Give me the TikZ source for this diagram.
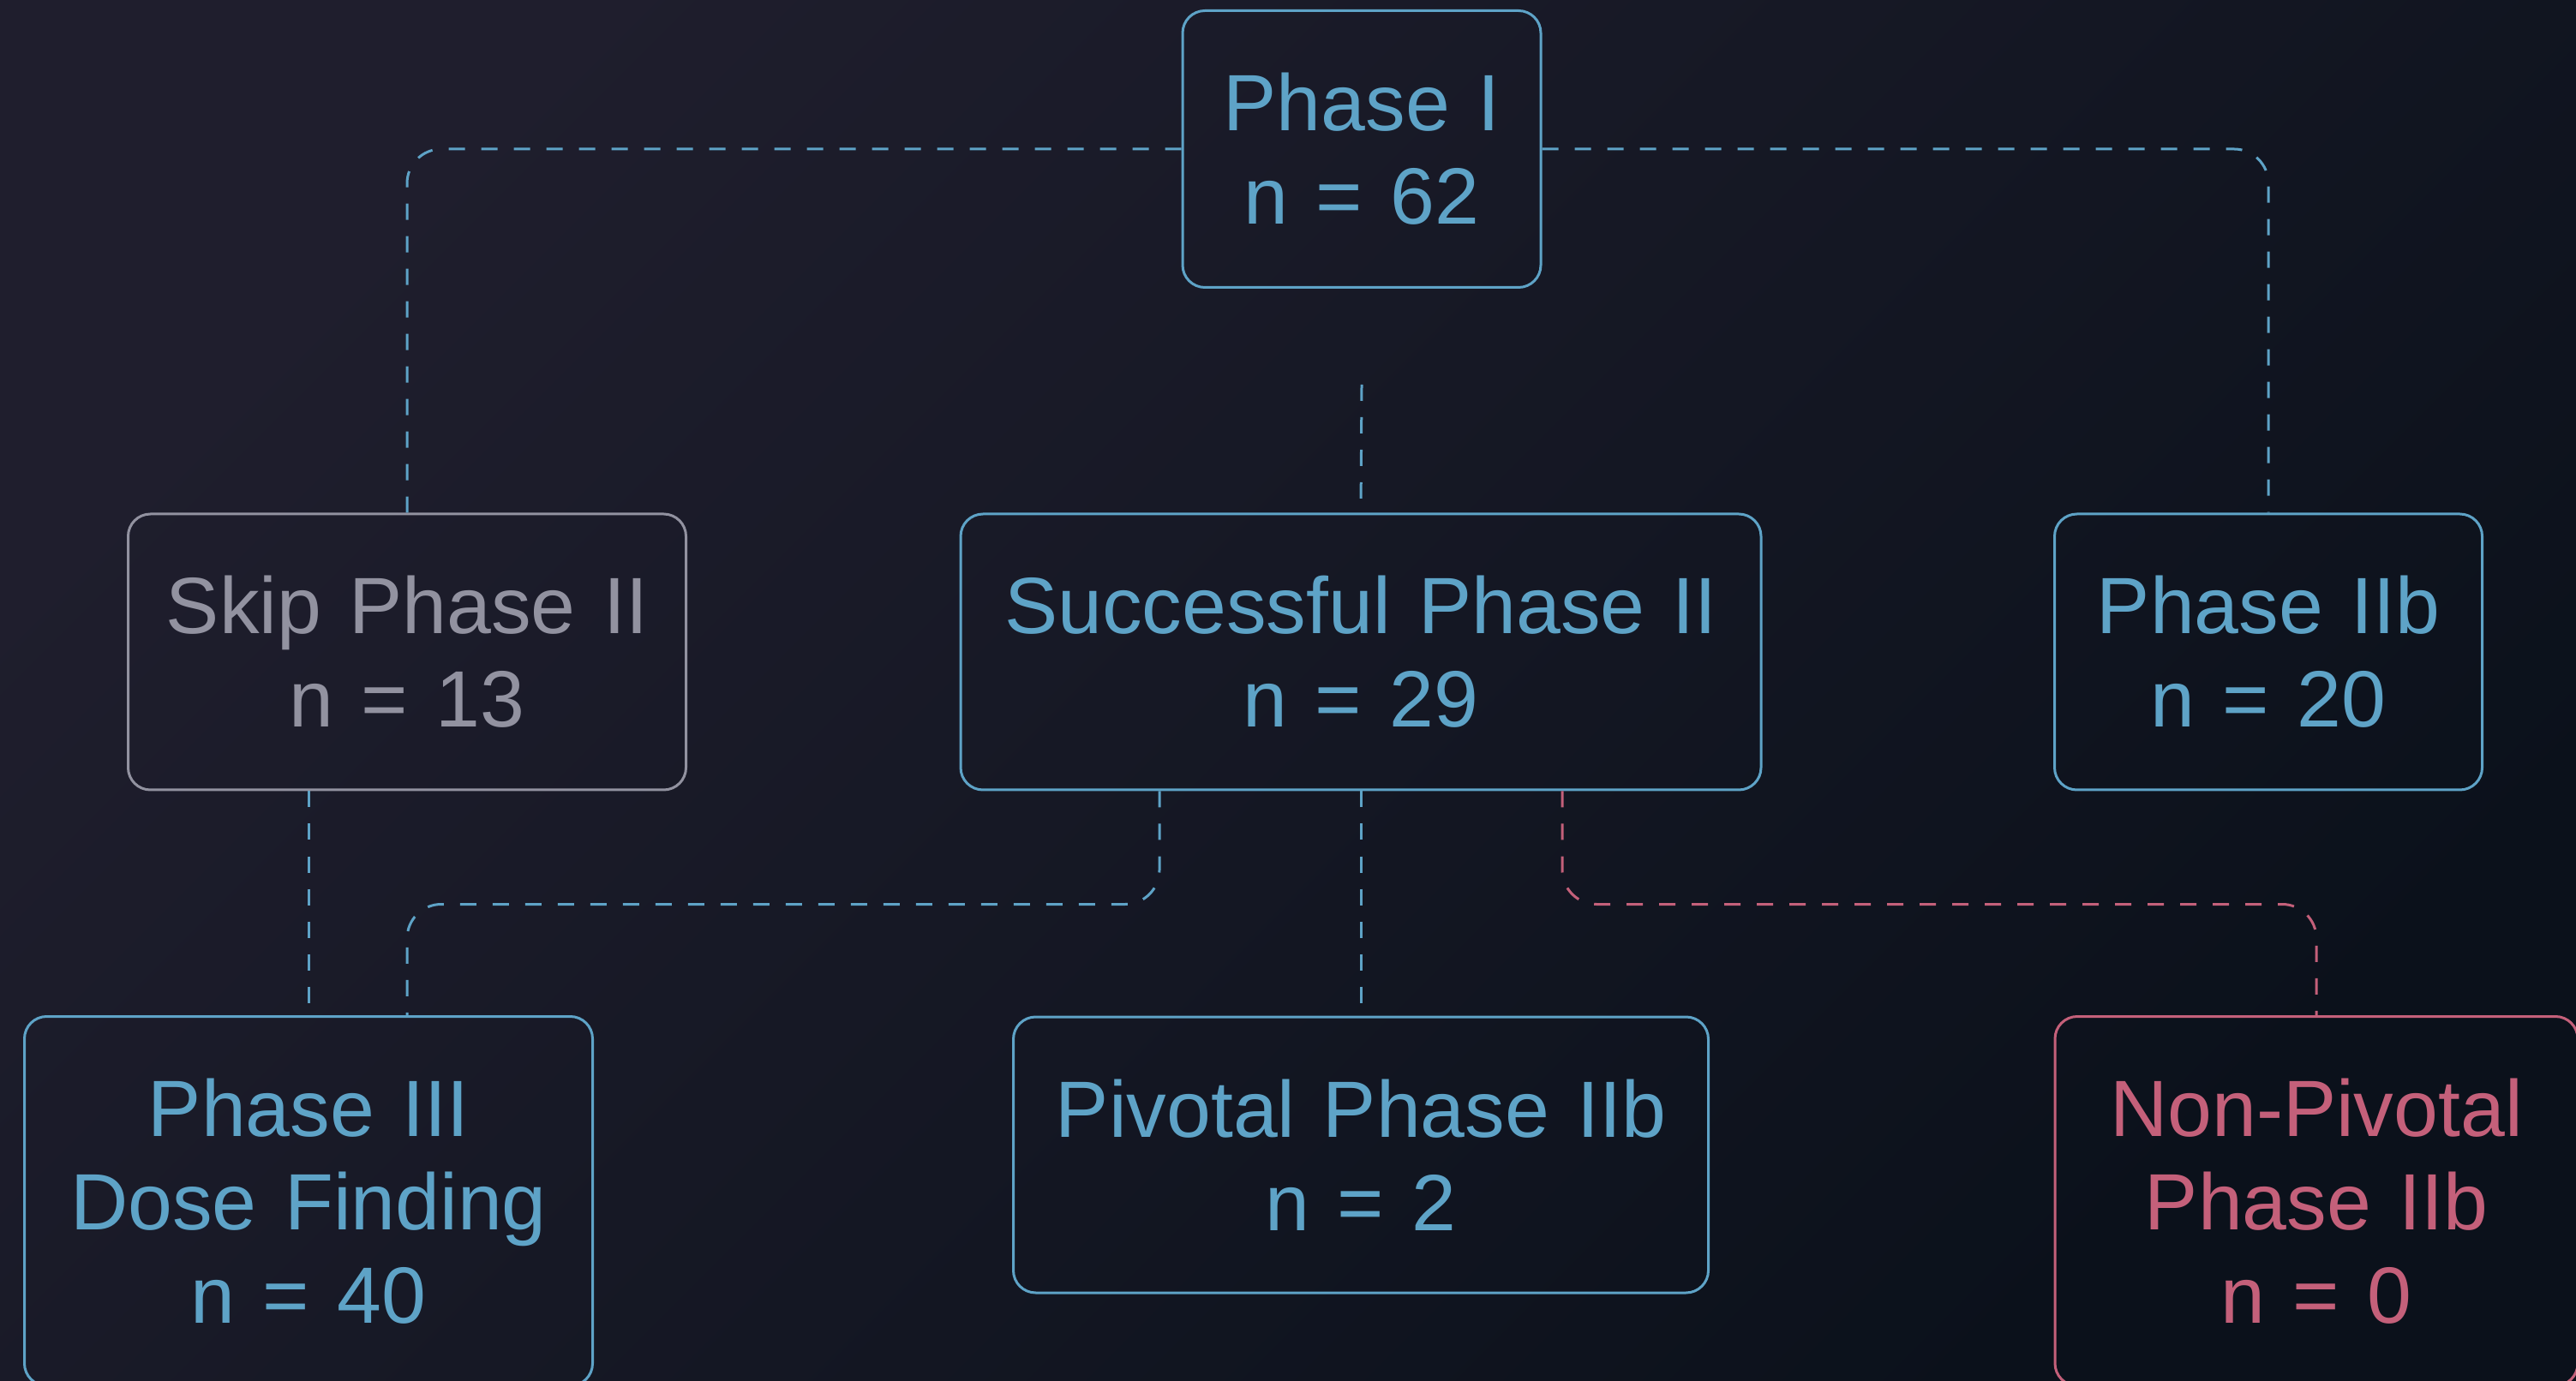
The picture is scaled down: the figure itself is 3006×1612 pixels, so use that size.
\documentclass[tikz,border=0pt]{standalone}
\usepackage{fontspec}
\setmainfont{Liberation Sans}[WordSpace=1.25]
\usetikzlibrary{calc}
\definecolor{bgA}{HTML}{1F1E2D}
\definecolor{bgB}{HTML}{0B111B}
\definecolor{cblue}{HTML}{5EA3C7}
\definecolor{cgray}{HTML}{9292A0}
\definecolor{cred}{HTML}{C4607A}
\begin{document}
\begin{tikzpicture}[x=0.25pt,y=-0.25pt,
  box/.style={draw=#1, text=#1, line width=0.75pt, rounded corners=6.5pt,
    align=center, inner sep=0pt,
    font=\fontsize{23.3pt}{27.3pt}\selectfont},
  wh/.style 2 args={minimum width=#1*0.25pt, minimum height=#2*0.25pt},
  conn/.style={draw=#1, line width=0.75pt, dash pattern=on 4.75pt off 4.75pt,
    rounded corners=10pt}]
  % page and background
  \useasboundingbox (0,0) rectangle (3006,1612);
  \clip (0,0) rectangle (3006,1612);
  \shade[top color=bgA, bottom color=bgB, shading angle=45] (0,0) rectangle (3006,1612);

  % stage boxes
  \node[box=cblue, wh={418}{323}] (p1)   at (1589,174)  {Phase I\\n = 62};
  \node[box=cgray, wh={651}{322}] (skip) at (475,761)   {Skip Phase II\\n = 13};
  \node[box=cblue, wh={934}{322}] (succ) at (1588,761)  {Successful Phase II\\n = 29};
  \node[box=cblue, wh={499}{322}] (iib)  at (2647,761)  {Phase IIb\\n = 20};
  \node[box=cblue, wh={663}{431}] (p3)   at (360,1402)  {Phase III\\Dose Finding\\n = 40};
  \node[box=cblue, wh={811}{322}] (piv)  at (1588,1348) {Pivotal Phase IIb\\n = 2};
  \node[box=cred,  wh={610}{431}] (np)   at (2703,1402) {Non-Pivotal\\Phase IIb\\n = 0};

  % connector anchors
  \coordinate (p1tail) at ($(p1.south)+(0,112)$);
  \coordinate (succL)  at ($(succ.south)+(-235,0)$);
  \coordinate (succR)  at ($(succ.south)+(235,0)$);
  \coordinate (p3in)   at ($(p3.north)+(115,0)$);

  % connectors
  \draw[conn=cblue] (p1.west) -| (skip.north);
  \draw[conn=cblue] (p1.east) -| (iib.north);
  \draw[conn=cblue] (p1tail) -- (succ.north);
  \draw[conn=cblue] (p3.north |- skip.south) -- (p3.north);
  \draw[conn=cblue] (succL) -- ++(0,132) -| (p3in);
  \draw[conn=cblue] (succ.south) -- (piv.north);
  \draw[conn=cred]  (succR) -- ++(0,132) -| (np.north);
\end{tikzpicture}
\end{document}
